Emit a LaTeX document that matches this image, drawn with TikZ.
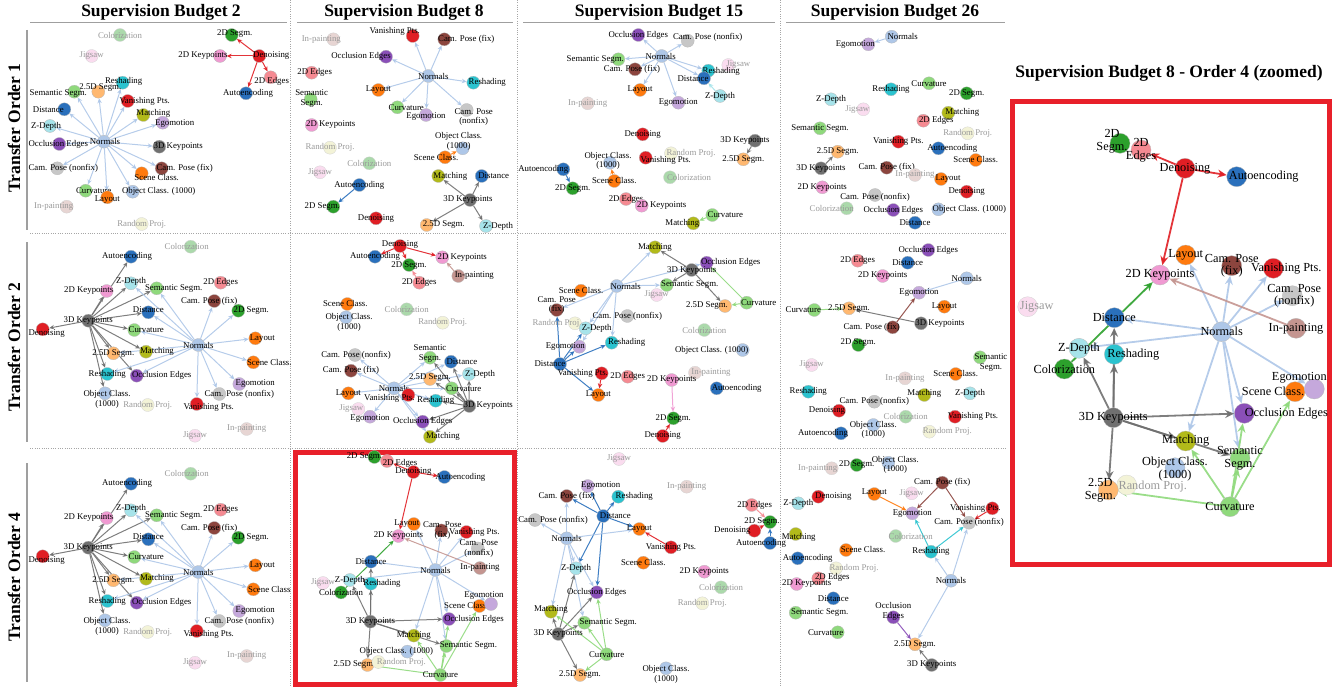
\documentclass[tikz,border=0pt]{standalone}
\usepackage{fontspec}
\setmainfont{Liberation Serif}
\usetikzlibrary{arrows.meta, backgrounds}

\definecolor{nrmC}{HTML}{AEC7E8}
\definecolor{objC}{HTML}{AEC7E8}
\definecolor{aeC}{HTML}{2A70BC}
\definecolor{distC}{HTML}{2A70BC}
\definecolor{layC}{HTML}{FF7A0E}
\definecolor{scnC}{HTML}{FF7A0E}
\definecolor{seg25C}{HTML}{FFB870}
\definecolor{seg2C}{HTML}{2CA02C}
\definecolor{colC}{HTML}{2CA02C}
\definecolor{curvC}{HTML}{8FD97C}
\definecolor{semC}{HTML}{8FD97C}
\definecolor{denC}{HTML}{E01E24}
\definecolor{vanC}{HTML}{E01E24}
\definecolor{edg2C}{HTML}{F58A92}
\definecolor{occC}{HTML}{8A4FB8}
\definecolor{egoC}{HTML}{C5A8DC}
\definecolor{cpfC}{HTML}{8C453E}
\definecolor{inpC}{HTML}{C49590}
\definecolor{kp2C}{HTML}{F09AD2}
\definecolor{jigC}{HTML}{F2A8D6}
\definecolor{kp3C}{HTML}{707070}
\definecolor{cpnC}{HTML}{C7C7C7}
\definecolor{matC}{HTML}{B2BA1A}
\definecolor{rndC}{HTML}{E2E29A}
\definecolor{rshC}{HTML}{2BC3CF}
\definecolor{zdC}{HTML}{A6E3EA}
\definecolor{boxred}{HTML}{E8202A}

\tikzset{
  task/.style={circle, draw=gray!55, line width=0.3pt, minimum size=13pt, inner sep=0pt},
  tlab/.style={font=\fontsize{8.8}{9.6}\selectfont, inner sep=0pt, align=center},
  tedge/.style={-{Stealth[length=5pt, width=4.5pt]}, line width=1pt, opacity=0.9},
  ttl/.style={font=\fontsize{17.5}{20}\selectfont\bfseries, inner sep=0pt},
  sepline/.style={gray!70, dash pattern=on 1pt off 1.3pt, line width=0.6pt},
  rule/.style={gray!75, line width=1.2pt}
}

% task node: name, x, y, colour, label dx, label dy, text
\newcommand{\tsk}[7]{%
  \node[task, fill=#4] (#1) at (#2,#3) {};
  \node[tlab] (#1-t) at ([shift={(#5,#6)}]#1) {#7};}
% unused task, drawn faded
\newcommand{\ftsk}[7]{%
  \node[task, draw=gray!35, fill=#4!40!white] (#1) at (#2,#3) {};
  \node[tlab, text=gray!80] (#1-t) at ([shift={(#5,#6)}]#1) {#7};}
% arrows from one source task
\newcommand{\fanout}[4]{%
  \begin{pgfonlayer}{background}
    \foreach \tg in {#4} {\draw[tedge, draw=#3] (#1-#2) -- (#1-\tg);}
  \end{pgfonlayer}}

% order 2 and order 4 at budget 2
\newcommand{\ordtwo}[3]{%
  \ftsk{#1-col}{190.7}{#2+246.7}{colC}{-4}{0}{Colorization}
  \tsk{#1-ae}{131}{#2+256.7}{aeC}{-4}{0}{Autoencoding}
  \tsk{#1-zd}{131}{#2+283.3}{zdC}{0}{-2}{Z-Depth}
  \tsk{#1-kp2}{106.7}{#2+291}{kp2C}{-18}{0}{2D Keypoints}
  \tsk{#1-sem}{156.7}{#2+288.3}{semC}{17}{0}{Semantic Segm.}
  \tsk{#1-edg2}{220.7}{#2+282.7}{edg2C}{0}{0}{2D Edges}
  \tsk{#1-cpf}{214.3}{#2+301}{cpfC}{-5}{0}{Cam. Pose (fix)}
  \tsk{#1-seg2}{238.3}{#2+310.7}{seg2C}{13}{0}{2D Segm.}
  \tsk{#1-dist}{148.3}{#2+312.3}{distC}{0}{-3}{Distance}
  \tsk{#1-kp3}{88.3}{#2+320.7}{kp3C}{0}{0}{3D Keypoints}
  \tsk{#1-den}{42.7}{#2+329.3}{denC}{4}{4}{Denoising}
  \tsk{#1-curv}{134.3}{#2+330}{curvC}{12}{0}{Curvature}
  \tsk{#1-lay}{255.3}{#2+338.3}{layC}{7}{0}{Layout}
  \tsk{#1-nrm}{198.3}{#2+345}{nrmC}{0}{0}{Normals}
  \tsk{#1-seg25}{113.3}{#2+353.3}{seg25C}{0}{0}{2.5D Segm.}
  \tsk{#1-mat}{146}{#2+351.7}{matC}{11}{0}{Matching}
  \tsk{#1-scn}{253.3}{#2+362.3}{scnC}{16}{0}{#3}
  \tsk{#1-rsh}{107.3}{#2+374}{rshC}{0}{0}{Reshading}
  \tsk{#1-occ}{136.7}{#2+375.7}{occC}{25}{0}{Occlusion Edges}
  \tsk{#1-ego}{239.3}{#2+384}{egoC}{16}{0}{Egomotion}
  \tsk{#1-obj}{105}{#2+393.3}{objC}{2}{6}{Object Class.\\(1000)}
  \tsk{#1-cpn}{219.3}{#2+394}{cpnC}{20}{0}{Cam. Pose (nonfix)}
  \ftsk{#1-rnd}{147.7}{#2+405}{rndC}{0}{0}{Random Proj.}
  \tsk{#1-van}{196.7}{#2+404}{vanC}{12}{3}{Vanishing Pts.}
  \ftsk{#1-inp}{246.7}{#2+429}{inpC}{0}{0}{In-painting}
  \ftsk{#1-jig}{195}{#2+435.7}{jigC}{0}{0}{Jigsaw}
  \fanout{#1}{kp3}{kp3C}{den,kp2,ae,zd,sem,dist,curv,mat,seg25,rsh,occ,obj}
  \fanout{#1}{nrm}{nrmC}{zd,sem,dist,cpf,seg2,lay,curv,seg25,rsh,occ,scn,ego,cpn,van}}

% arrows of budget 8, order 4
\newcommand{\zedges}[1]{%
  \fanout{#1}{den}{denC}{edg2,ae,kp2}
  \fanout{#1}{nrm}{nrmC}{lay,cpf,van,cpn,dist,zd,ego,occ,sem,mat}
  \fanout{#1}{inp}{inpC}{kp2}
  \fanout{#1}{col}{colC}{kp2}
  \fanout{#1}{kp3}{kp3C}{zd,rsh,dist,occ,mat,sem,seg25}
  \fanout{#1}{curv}{curvC}{mat,sem,occ,scn,seg25}}

\begin{document}
\begin{tikzpicture}[x=1pt, y=-1pt]
\useasboundingbox (0,0) rectangle (1332,687);

% frame
\node[ttl] (tb2) at (161,12) {Supervision Budget 2};
\node[ttl] (tb8) at (404,12) {Supervision Budget 8};
\node[ttl] (tb15) at (659,12) {Supervision Budget 15};
\node[ttl] (tb26) at (895,12) {Supervision Budget 26};
\node[ttl] (tbz) at (1169,73) {Supervision Budget 8 - Order 4 (zoomed)};
\node[ttl, rotate=90] (to1) at (14,128) {Transfer Order 1};
\node[ttl, rotate=90] (to2) at (14,347) {Transfer Order 2};
\node[ttl, rotate=90] (to4) at (14,577) {Transfer Order 4};
\draw[rule] (30,22.7) -- (287,22.7);
\draw[rule] (297,22.7) -- (513,22.7);
\draw[rule] (523,22.7) -- (775,22.7);
\draw[rule] (786,22.7) -- (1005,22.7);
\draw[rule] (27,30) -- (27,230);
\draw[rule] (27,242) -- (27,442);
\draw[rule] (27,463) -- (27,682);
\draw[sepline] (290.5,0) -- (290.5,687);
\draw[sepline] (517.5,0) -- (517.5,687);
\draw[sepline] (780,0) -- (780,687);
\draw[sepline] (30,233.5) -- (1006,233.5);
\draw[sepline] (30,448.5) -- (1006,448.5);
\draw[boxred, line width=5pt] (295.5,452.5) rectangle (514.5,684.5);
\draw[boxred, line width=5pt] (1012.5,102) rectangle (1329,564);

% budget 2, order 1
\ftsk{a-col}{120}{35}{colC}{0}{0}{Colorization}
\ftsk{a-jig}{91.7}{56}{jigC}{0}{0}{Jigsaw}
\tsk{a-seg2}{231.7}{35}{seg2C}{3}{-1}{2D Segm.}
\tsk{a-den}{259.3}{56}{denC}{12}{0}{Denoising}
\tsk{a-kp2}{220}{56}{kp2C}{-17}{0}{2D Keypoints}
\tsk{a-edg2}{270.7}{77.3}{edg2C}{1}{4}{2D Edges}
\tsk{a-ae}{246}{93.3}{aeC}{2}{0}{Autoencoding}
\tsk{a-nrm}{104}{141.7}{nrmC}{1}{0}{Normals}
\tsk{a-rsh}{122.7}{82.7}{rshC}{1}{-1}{Reshading}
\tsk{a-seg25}{98.3}{91.7}{seg25C}{2}{-4}{2.5D Segm.}
\tsk{a-sem}{74.3}{91.7}{semC}{-16}{2}{Semantic Segm.}
\tsk{a-van}{127.7}{101}{vanC}{17}{0}{Vanishing Pts.}
\tsk{a-dist}{64.3}{109.3}{distC}{-16}{0}{Distance}
\tsk{a-mat}{143.3}{115}{matC}{10}{-2}{Matching}
\tsk{a-ego}{162.7}{122.7}{egoC}{12}{1}{Egomotion}
\tsk{a-zd}{50}{126}{zdC}{-4}{0}{Z-Depth}
\tsk{a-occ}{59.3}{144}{occC}{-1}{0}{Occlusion Edges}
\tsk{a-kp3}{159.3}{146.7}{kp3C}{19}{0}{3D Keypoints}
\tsk{a-cpn}{57.3}{168.3}{cpnC}{6}{0}{Cam. Pose (nonfix)}
\tsk{a-cpf}{161.7}{168.3}{cpfC}{23}{0}{Cam. Pose (fix)}
\tsk{a-scn}{141.7}{173.3}{scnC}{15}{4}{Scene Class.}
\tsk{a-curv}{85.7}{190.7}{curvC}{8}{0}{Curvature}
\tsk{a-lay}{107.3}{197.3}{layC}{0}{2}{Layout}
\tsk{a-obj}{132.7}{191.7}{objC}{26}{0}{Object Class. (1000)}
\ftsk{a-inp}{66.7}{206.7}{inpC}{-13}{0}{In-painting}
\ftsk{a-rnd}{141.7}{224}{rndC}{0}{0}{Random Proj.}
\fanout{a}{den}{denC}{seg2,kp2,edg2,ae}
\fanout{a}{nrm}{nrmC}{rsh,seg25,sem,van,dist,mat,ego,zd,occ,kp3,cpn,cpf,scn,curv,lay,obj}

% budget 8, order 1
\ftsk{b-inp}{333.3}{39.3}{inpC}{-12}{0}{In-painting}
\tsk{b-van}{412.7}{36}{vanC}{-18}{-5}{Vanishing Pts.}
\tsk{b-cpf}{444.3}{39.3}{cpfC}{22}{0}{Cam. Pose (fix)}
\tsk{b-occ}{386}{56.7}{occC}{-25}{0}{Occlusion Edges}
\tsk{b-edg2}{311.7}{72.7}{edg2C}{3}{0}{2D Edges}
\tsk{b-nrm}{428.3}{76}{nrmC}{5}{0}{Normals}
\tsk{b-rsh}{473.3}{82.7}{rshC}{14}{0}{Reshading}
\tsk{b-lay}{378.3}{90}{layC}{0}{0}{Layout}
\tsk{b-sem}{310.7}{99.3}{semC}{1}{-1}{Semantic\\Segm.}
\tsk{b-curv}{397.3}{107.3}{curvC}{9}{0}{Curvature}
\tsk{b-ego}{426}{115}{egoC}{0}{2}{Egomotion}
\tsk{b-cpn}{466.7}{110}{cpnC}{7}{7}{Cam. Pose\\(nonfix)}
\tsk{b-kp2}{311.7}{125}{kp2C}{19}{0}{2D Keypoints}
\tsk{b-obj}{462.7}{148.3}{objC}{-4}{-7}{Object Class.\\(1000)}
\ftsk{b-rnd}{330}{147.7}{rndC}{0}{0}{Random Proj.}
\tsk{b-scn}{445}{157.3}{scnC}{-9}{0}{Scene Class.}
\ftsk{b-col}{369.3}{163.3}{colC}{0}{0}{Colorization}
\ftsk{b-jig}{320}{172.3}{jigC}{0}{0}{Jigsaw}
\tsk{b-mat}{438.3}{176}{matC}{12}{0}{Matching}
\tsk{b-dist}{481.7}{176}{distC}{12}{0}{Distance}
\tsk{b-ae}{359.3}{185}{aeC}{0}{0}{Autoencoding}
\tsk{b-seg2}{333.3}{206.7}{seg2C}{-11}{0}{2D Segm.}
\tsk{b-kp3}{470}{200}{kp3C}{-2}{0}{3D Keypoints}
\tsk{b-den}{376}{218.3}{denC}{0}{0}{Denoising}
\tsk{b-seg25}{426.7}{225}{seg25C}{17}{0}{2.5D Segm.}
\tsk{b-zd}{486}{226}{zdC}{12}{0}{Z-Depth}
\fanout{b}{nrm}{nrmC}{van,cpf,occ,rsh,lay,curv,ego,cpn}
\fanout{b}{scn}{scnC}{obj}
\fanout{b}{ae}{aeC}{seg2}
\fanout{b}{kp3}{kp3C}{mat,dist,seg25,zd}

% budget 15, order 1
\tsk{c-occ}{638.3}{35}{occC}{0}{0}{Occlusion Edges}
\tsk{c-cpn}{687.7}{40.7}{cpnC}{20}{-3}{Cam. Pose (nonfix)}
\tsk{c-nrm}{661.7}{56}{nrmC}{-1}{0}{Normals}
\tsk{c-sem}{618.3}{59.3}{semC}{-23}{0}{Semantic Segm.}
\tsk{c-cpf}{635}{69.3}{cpfC}{-3}{0}{Cam. Pose (fix)}
\ftsk{c-jig}{728.3}{65}{jigC}{10}{0}{Jigsaw}
\tsk{c-rsh}{708.3}{70.7}{rshC}{13}{1}{Reshading}
\tsk{c-dist}{704}{78.3}{distC}{-11}{0}{Distance}
\tsk{c-lay}{640}{90}{layC}{0}{0}{Layout}
\tsk{c-zd}{720}{96}{zdC}{0}{0}{Z-Depth}
\ftsk{c-inp}{587.7}{103.3}{inpC}{0}{0}{In-painting}
\tsk{c-ego}{678.3}{102.7}{egoC}{0}{0}{Egomotion}
\tsk{c-den}{642.7}{134.3}{denC}{0}{0}{Denoising}
\tsk{c-kp3}{755}{140.7}{kp3C}{-10}{0}{3D Keypoints}
\tsk{c-seg25}{743.3}{159.3}{seg25C}{0}{0}{2.5D Segm.}
\ftsk{c-rnd}{671}{153.3}{rndC}{20}{0}{Random Proj.}
\tsk{c-obj}{610}{162.7}{objC}{-2}{-2}{Object Class.\\(1000)}
\tsk{c-van}{645.7}{157.7}{vanC}{20}{3}{Vanishing Pts.}
\tsk{c-ae}{563.3}{169.3}{aeC}{-20}{0}{Autoencoding}
\tsk{c-seg2}{572.7}{188.3}{seg2C}{0}{0}{2D Segm.}
\tsk{c-scn}{614.3}{181}{scnC}{0}{0}{Scene Class.}
\ftsk{c-col}{670}{177.3}{colC}{19}{0}{Colorization}
\tsk{c-edg2}{626}{199}{edg2C}{0}{0}{2D Edges}
\tsk{c-kp2}{641.7}{205.7}{kp2C}{20}{0}{2D Keypoints}
\tsk{c-curv}{712.3}{215}{curvC}{13}{0}{Curvature}
\tsk{c-mat}{693.3}{223.3}{matC}{-11}{0}{Matching}
\fanout{c}{nrm}{nrmC}{occ,cpn,sem,cpf,rsh,dist,lay,ego}
\fanout{c}{zd}{zdC}{dist}
\fanout{c}{kp3}{kp3C}{seg25}
\fanout{c}{ae}{aeC}{seg2}
\fanout{c}{scn}{scnC}{obj}
\fanout{c}{curv}{curvC}{mat}

% budget 26, order 1
\tsk{d-nrm}{891.7}{36.7}{nrmC}{11}{0}{Normals}
\tsk{d-ego}{868.3}{44.3}{egoC}{-13}{0}{Egomotion}
\tsk{d-rsh}{891}{89.3}{rshC}{0}{0}{Reshading}
\tsk{d-curv}{929}{83.3}{curvC}{0}{0}{Curvature}
\tsk{d-seg2}{966.7}{93.3}{seg2C}{0}{0}{2D Segm.}
\tsk{d-zd}{831}{99.3}{zdC}{0}{0}{Z-Depth}
\ftsk{d-jig}{863.3}{109.3}{jigC}{-6}{0}{Jigsaw}
\tsk{d-mat}{948.3}{112.7}{matC}{14}{0}{Matching}
\tsk{d-edg2}{923.3}{120.7}{edg2C}{13}{0}{2D Edges}
\tsk{d-sem}{820}{128.3}{semC}{0}{0}{Semantic Segm.}
\ftsk{d-rnd}{967.7}{133.3}{rndC}{0}{0}{Random Proj.}
\tsk{d-van}{898.3}{141.7}{vanC}{0}{0}{Vanishing Pts.}
\tsk{d-ae}{938.3}{148.3}{aeC}{14}{0}{Autoencoding}
\tsk{d-seg25}{837.7}{151.7}{seg25C}{0}{0}{2.5D Segm.}
\tsk{d-scn}{975.7}{160}{scnC}{0}{0}{Scene Class.}
\tsk{d-kp3}{821}{168.3}{kp3C}{0}{0}{3D Keypoints}
\tsk{d-cpf}{886.7}{167.7}{cpfC}{0}{0}{Cam. Pose (fix)}
\ftsk{d-inp}{915}{175}{inpC}{0}{0}{In-painting}
\tsk{d-lay}{941}{179}{layC}{7}{0}{Layout}
\tsk{d-kp2}{822.3}{187.3}{kp2C}{0}{0}{2D Keypoints}
\tsk{d-den}{966.7}{191.7}{denC}{0}{0}{Denoising}
\tsk{d-cpn}{875}{195}{cpnC}{0}{2}{Cam. Pose (nonfix)}
\ftsk{d-col}{846.7}{208.3}{colC}{-15}{0}{Colorization}
\tsk{d-occ}{893.3}{210}{occC}{0}{0}{Occlusion Edges}
\tsk{d-obj}{938.3}{209.3}{objC}{31}{0}{Object Class. (1000)}
\tsk{d-dist}{915}{222.7}{distC}{0}{0}{Distance}
\fanout{d}{nrm}{nrmC}{ego}
\fanout{d}{kp3}{kp3C}{seg25}

% budget 2, orders 2 and 4
\ordtwo{e}{0}{Scene Class.}
\ordtwo{i}{227}{Scene Class}

% budget 8, order 2
\tsk{f-den}{400}{246}{denC}{0}{-1}{Denoising}
\tsk{f-ae}{375}{256.7}{aeC}{0}{0}{Autoencoding}
\tsk{f-kp2}{442.3}{257.3}{kp2C}{20}{0}{2D Keypoints}
\tsk{f-seg2}{409}{265}{seg2C}{0}{1}{2D Segm.}
\tsk{f-inp}{458.3}{276}{inpC}{16}{0}{In-painting}
\tsk{f-edg2}{419.3}{282.7}{edg2C}{0}{0}{2D Edges}
\tsk{f-scn}{347.3}{304}{scnC}{-2}{0}{Scene Class.}
\tsk{f-obj}{346}{317.3}{objC}{3}{5}{Object Class.\\(1000)}
\ftsk{f-col}{406.7}{309.3}{colC}{0}{0}{Colorization}
\ftsk{f-rnd}{442.7}{322.7}{rndC}{0}{0}{Random Proj.}
\tsk{f-cpn}{355}{355}{cpnC}{1}{0}{Cam. Pose (nonfix)}
\tsk{f-sem}{430}{357.7}{semC}{0}{-4}{Semantic\\Segm.}
\tsk{f-dist}{451}{361.7}{distC}{11}{0}{Distance}
\tsk{f-cpf}{351}{370.7}{cpfC}{0}{0}{Cam. Pose (fix)}
\tsk{f-zd}{469}{374}{zdC}{11}{0}{Z-Depth}
\tsk{f-seg25}{430}{379}{seg25C}{0}{-1}{2.5D Segm.}
\tsk{f-curv}{451.7}{388.3}{curvC}{12}{0}{Curvature}
\tsk{f-nrm}{394}{388.3}{nrmC}{0}{0}{Normals}
\tsk{f-lay}{348.3}{393.3}{layC}{0}{0}{Layout}
\tsk{f-van}{408.3}{395}{vanC}{-19}{3}{Vanishing Pts.}
\tsk{f-rsh}{435.7}{400.7}{rshC}{0}{0}{Reshading}
\tsk{f-kp3}{469.3}{406}{kp3C}{19}{0}{3D Keypoints}
\ftsk{f-jig}{358.3}{409}{jigC}{-7}{0}{Jigsaw}
\tsk{f-ego}{370}{416.7}{egoC}{0}{2}{Egomotion}
\tsk{f-occ}{422.7}{421.7}{occC}{0}{0}{Occlusion Edges}
\tsk{f-mat}{430}{436.7}{matC}{13}{0}{Matching}
\fanout{f}{den}{denC}{ae,seg2,kp2}
\fanout{f}{edg2}{edg2C}{seg2}
\fanout{f}{inp}{inpC}{kp2}
\fanout{f}{nrm}{nrmC}{cpn,cpf,lay,sem,dist,zd,curv,rsh,ego,occ,mat}
\fanout{f}{kp3}{kp3C}{sem,dist,zd,seg25,curv,rsh,occ,mat}

% budget 15, order 2
\tsk{g-mat}{655}{247.3}{matC}{0}{0}{Matching}
\tsk{g-occ}{706.7}{262.7}{occC}{24}{0}{Occlusion Edges}
\tsk{g-kp3}{691.7}{270}{kp3C}{0}{1}{3D Keypoints}
\tsk{g-nrm}{616.7}{286}{nrmC}{9}{0}{Normals}
\tsk{g-scn}{581}{290.7}{scnC}{0}{0}{Scene Class.}
\tsk{g-sem}{666.7}{285}{semC}{23}{0}{Semantic Segm.}
\ftsk{g-jig}{656.7}{295}{jigC}{0}{0}{Jigsaw}
\tsk{g-cpf}{556.7}{310}{cpfC}{0}{-5}{Cam. Pose\\(fix)}
\tsk{g-seg25}{725}{306}{seg25C}{-18}{0}{2.5D Segm.}
\tsk{g-curv}{746.7}{302.7}{curvC}{12}{0}{Curvature}
\tsk{g-cpn}{627.3}{316}{cpnC}{0}{0}{Cam. Pose (nonfix)}
\ftsk{g-rnd}{575}{323.3}{rndC}{-18}{0}{Random Proj.}
\tsk{g-zd}{585.7}{328.3}{zdC}{11}{0}{Z-Depth}
\ftsk{g-col}{704.3}{330}{colC}{0}{0}{Colorization}
\tsk{g-rsh}{611.7}{342.7}{rshC}{15}{0}{Reshading}
\tsk{g-ego}{579.3}{346.7}{egoC}{-14}{0}{Egomotion}
\tsk{g-obj}{742.7}{350}{objC}{-31}{0}{Object Class. (1000)}
\tsk{g-dist}{560}{364}{distC}{-10}{0}{Distance}
\tsk{g-van}{601.7}{373.3}{vanC}{-19}{0}{Vanishing Pts.}
\tsk{g-edg2}{627.7}{376.7}{edg2C}{0}{0}{2D Edges}
\ftsk{g-inp}{695}{372.7}{inpC}{16}{0}{In-painting}
\tsk{g-kp2}{671.7}{380}{kp2C}{0}{0}{2D Keypoints}
\tsk{g-ae}{716.7}{388.3}{aeC}{20}{0}{Autoencoding}
\tsk{g-lay}{598.3}{395}{layC}{0}{0}{Layout}
\tsk{g-seg2}{673.3}{418.3}{seg2C}{0}{0}{2D Segm.}
\tsk{g-den}{662.7}{436}{denC}{0}{0}{Denoising}
\fanout{g}{nrm}{nrmC}{mat,cpf,sem,zd,rsh,ego,occ}
\fanout{g}{kp3}{kp3C}{mat,sem,seg25}
\fanout{g}{curv}{curvC}{occ,seg25}
\fanout{g}{dist}{distC}{cpf,zd,ego,rsh,lay}
\fanout{g}{van}{vanC}{lay}
\fanout{g}{kp2}{kp2C}{seg2}
\fanout{g}{den}{denC}{seg2}

% budget 26, order 2
\tsk{h-occ}{928.3}{250}{occC}{0}{0}{Occlusion Edges}
\tsk{h-edg2}{857.7}{260.7}{edg2C}{0}{0}{2D Edges}
\tsk{h-dist}{907.7}{262.7}{distC}{0}{0}{Distance}
\tsk{h-kp2}{882.7}{276}{kp2C}{0}{0}{2D Keypoints}
\tsk{h-nrm}{966.7}{278.3}{nrmC}{0}{0}{Normals}
\tsk{h-ego}{919}{292.7}{egoC}{0}{0}{Egomotion}
\tsk{h-lay}{944.3}{306.7}{layC}{0}{0}{Layout}
\tsk{h-curv}{814.3}{310}{curvC}{-11}{0}{Curvature}
\tsk{h-seg25}{849}{308.3}{seg25C}{0}{0}{2.5D Segm.}
\tsk{h-cpf}{892.7}{327.3}{cpfC}{-21}{0}{Cam. Pose (fix)}
\tsk{h-kp3}{921}{323.3}{kp3C}{19}{0}{3D Keypoints}
\tsk{h-seg2}{858.3}{345}{seg2C}{0}{-2}{2D Segm.}
\ftsk{h-jig}{811.7}{365}{jigC}{0}{0}{Jigsaw}
\tsk{h-sem}{980}{357.3}{semC}{11}{5}{Semantic\\Segm.}
\ftsk{h-inp}{905}{378.3}{inpC}{0}{0}{In-painting}
\tsk{h-scn}{955.7}{374}{scnC}{0}{0}{Scene Class.}
\tsk{h-rsh}{808.3}{391.7}{rshC}{0}{0}{Reshading}
\tsk{h-mat}{924.3}{395}{matC}{0}{-2}{Matching}
\tsk{h-zd}{970}{393.3}{zdC}{0}{0}{Z-Depth}
\tsk{h-cpn}{874.3}{401.7}{cpnC}{0}{0}{Cam. Pose (nonfix)}
\tsk{h-den}{839}{410.7}{denC}{-12}{0}{Denoising}
\ftsk{h-col}{905.7}{416.7}{colC}{0}{0}{Colorization}
\tsk{h-van}{955}{416.7}{vanC}{18}{0}{Vanishing Pts.}
\tsk{h-obj}{873.3}{425}{objC}{0}{5}{Object Class.\\(1000)}
\ftsk{h-rnd}{929.3}{431.7}{rndC}{18}{0}{Random Proj.}
\tsk{h-ae}{841}{433.3}{aeC}{-18}{0}{Autoencoding}
\fanout{h}{nrm}{nrmC}{ego}
\fanout{h}{curv}{curvC}{seg25}
\fanout{h}{kp3}{kp3C}{seg25}
\fanout{h}{cpf}{cpfC}{ego}

% budget 8, order 4
\tsk{j-seg2}{374.4}{457}{seg2C}{-10}{0}{2D Segm.}
\tsk{j-edg2}{387}{461}{edg2C}{13}{2}{2D Edges}
\tsk{j-den}{413.4}{472}{denC}{0}{0}{Denoising}
\tsk{j-ae}{444.4}{477}{aeC}{16}{0}{Autoencoding}
\tsk{j-lay}{413.8}{524}{layC}{-7}{0}{Layout}
\tsk{j-cpf}{441.4}{530.4}{cpfC}{1}{0}{Cam. Pose\\(fix)}
\tsk{j-van}{466.4}{532}{vanC}{8}{0}{Vanishing Pts.}
\tsk{j-kp2}{398.4}{536}{kp2C}{0}{0}{2D Keypoints}
\tsk{j-cpn}{477.8}{548.4}{cpnC}{1}{0}{Cam. Pose\\(nonfix)}
\ftsk{j-jig}{323}{583}{jigC}{0}{0}{Jigsaw}
\tsk{j-dist}{371}{561.6}{distC}{0}{0}{Distance}
\tsk{j-nrm}{435.4}{570}{nrmC}{0}{0}{Normals}
\tsk{j-inp}{480}{568}{inpC}{0}{0}{In-painting}
\tsk{j-zd}{349.8}{580}{zdC}{0}{0}{Z-Depth}
\tsk{j-rsh}{371}{583.6}{rshC}{11}{0}{Reshading}
\tsk{j-col}{341}{592.4}{colC}{0}{0}{Colorization}
\tsk{j-scn}{479.4}{606}{scnC}{-13}{0}{Scene Class.}
\tsk{j-ego}{491}{604}{egoC}{-7}{-8}{Egomotion}
\tsk{j-kp3}{370.4}{621.6}{kp3C}{0}{0}{3D Keypoints}
\tsk{j-occ}{449}{619}{occC}{25}{0}{Occlusion Edges}
\tsk{j-mat}{413.8}{635.6}{matC}{0}{0}{Matching}
\tsk{j-sem}{446.4}{646}{semC}{22}{0}{Semantic Segm.}
\tsk{j-obj}{407.4}{651.6}{objC}{-11}{0}{Object Class. (1000)}
\tsk{j-seg25}{367.4}{665}{seg25C}{-13}{0}{2.5D Segm.}
\ftsk{j-rnd}{378.4}{662}{rndC}{23}{0}{Random Proj.}
\tsk{j-curv}{440.4}{675}{curvC}{0}{0}{Curvature}
\zedges{j}

% budget 15, order 4
\ftsk{k-jig}{619}{459}{jigC}{0}{0}{Jigsaw}
\tsk{k-ego}{587.7}{486}{egoC}{13}{0}{Egomotion}
\ftsk{k-inp}{686.7}{486.7}{inpC}{0}{0}{In-painting}
\tsk{k-cpf}{566.7}{496}{cpfC}{0}{0}{Cam. Pose (fix)}
\tsk{k-rsh}{618.3}{496.7}{rshC}{16}{0}{Reshading}
\tsk{k-edg2}{751.7}{505}{edg2C}{3}{0}{2D Edges}
\tsk{k-dist}{603.3}{516}{distC}{12}{0}{Distance}
\tsk{k-cpn}{535}{520}{cpnC}{18}{0}{Cam. Pose (nonfix)}
\tsk{k-lay}{639.3}{529}{layC}{0}{0}{Layout}
\tsk{k-seg2}{770}{522}{seg2C}{-8}{0}{2D Segm.}
\tsk{k-den}{754.3}{530.7}{denC}{-22}{0}{Denoising}
\tsk{k-ae}{770}{543}{aeC}{-9}{0}{Autoencoding}
\tsk{k-nrm}{566.7}{538.3}{nrmC}{0}{0}{Normals}
\tsk{k-van}{671}{547.3}{vanC}{0}{0}{Vanishing Pts.}
\tsk{k-scn}{643.3}{562.7}{scnC}{0}{0}{Scene Class.}
\tsk{k-kp2}{704.3}{571.7}{kp2C}{0}{0}{2D Keypoints}
\tsk{k-zd}{576}{568.3}{zdC}{0}{0}{Z-Depth}
\ftsk{k-col}{721}{587.3}{colC}{0}{0}{Colorization}
\tsk{k-occ}{596.7}{592.3}{occC}{0}{0}{Occlusion Edges}
\ftsk{k-rnd}{702.3}{603.3}{rndC}{0}{0}{Random Proj.}
\tsk{k-mat}{551}{611.7}{matC}{0}{-2}{Matching}
\tsk{k-sem}{584.3}{622.7}{semC}{24}{0}{Semantic Segm.}
\tsk{k-kp3}{558.3}{634}{kp3C}{0}{0}{3D Keypoints}
\tsk{k-curv}{606.7}{654.3}{curvC}{0}{0}{Curvature}
\tsk{k-seg25}{580}{675}{seg25C}{0}{0}{2.5D Segm.}
\tsk{k-obj}{666}{668.3}{objC}{0}{6}{Object Class.\\(1000)}
\fanout{k}{dist}{distC}{ego,cpf,rsh,lay,zd,occ}
\fanout{k}{van}{vanC}{lay}
\fanout{k}{nrm}{nrmC}{cpn,cpf,mat,sem,occ,lay,zd}
\fanout{k}{kp3}{kp3C}{mat,zd,occ,sem,seg25}
\fanout{k}{curv}{curvC}{mat,sem,occ,seg25}
\fanout{k}{edg2}{edg2C}{seg2}
\fanout{k}{den}{denC}{seg2}
\fanout{k}{ae}{aeC}{seg2}

% budget 26, order 4
\ftsk{l-inp}{831.7}{468.3}{inpC}{-14}{0}{In-painting}
\tsk{l-seg2}{856.7}{465}{seg2C}{0}{0}{2D Segm.}
\tsk{l-obj}{888.3}{462.7}{objC}{7}{2}{Object Class.\\(1000)}
\tsk{l-zd}{798.3}{503.3}{zdC}{0}{0}{Z-Depth}
\tsk{l-den}{818.3}{496.7}{denC}{15}{0}{Denoising}
\tsk{l-lay}{874.3}{494}{layC}{0}{-1}{Layout}
\ftsk{l-jig}{911.7}{493.3}{jigC}{0}{0}{Jigsaw}
\tsk{l-cpf}{942.3}{482.7}{cpfC}{0}{0}{Cam. Pose (fix)}
\tsk{l-ego}{912.3}{513.3}{egoC}{0}{0}{Egomotion}
\tsk{l-van}{992.3}{508.3}{vanC}{-17}{0}{Vanishing Pts.}
\tsk{l-cpn}{969}{522.7}{cpnC}{0}{0}{Cam. Pose (nonfix)}
\ftsk{l-col}{895.7}{536}{colC}{15}{0}{Colorization}
\tsk{l-mat}{795.7}{534}{matC}{3}{3}{Matching}
\tsk{l-rsh}{931}{551.7}{rshC}{0}{0}{Reshading}
\tsk{l-scn}{846}{550}{scnC}{17}{0}{Scene Class.}
\tsk{l-ae}{797.7}{558.3}{aeC}{10}{0}{Autoencoding}
\ftsk{l-rnd}{836}{568.3}{rndC}{18}{0}{Random Proj.}
\tsk{l-nrm}{951}{580.7}{nrmC}{0}{0}{Normals}
\tsk{l-edg2}{818.3}{578.3}{edg2C}{14}{-1}{2D Edges}
\tsk{l-kp2}{796.7}{584}{kp2C}{10}{0}{2D Keypoints}
\tsk{l-dist}{833.3}{598.3}{distC}{0}{0}{Distance}
\tsk{l-occ}{893.3}{617.3}{occC}{0}{-6}{Occlusion\\Edges}
\tsk{l-sem}{795.7}{612.7}{semC}{24}{0}{Semantic Segm.}
\tsk{l-curv}{837.7}{632.3}{curvC}{-12}{0}{Curvature}
\tsk{l-seg25}{915}{644.3}{seg25C}{0}{0}{2.5D Segm.}
\tsk{l-kp3}{931.7}{665}{kp3C}{0}{0}{3D Keypoints}
\fanout{l}{lay}{layC}{ego}
\fanout{l}{cpf}{cpfC}{ego,cpn}
\fanout{l}{van}{vanC}{cpn}
\fanout{l}{rsh}{rshC}{ego,cpn}
\fanout{l}{nrm}{nrmC}{rsh,cpn,seg25}
\fanout{l}{occ}{occC}{seg25}
\fanout{l}{kp3}{kp3C}{seg25}

% zoomed copy of budget 8, order 4
\begin{scope}[task/.append style={minimum size=20pt},
  tlab/.append style={font=\fontsize{12.3}{12.8}\selectfont},
  tedge/.append style={line width=1.8pt, -{Stealth[length=9pt, width=8pt]}}]
\tsk{z-seg2}{1120}{143.3}{seg2C}{-8}{-2}{2D\\Segm.}
\tsk{z-edg2}{1141}{150}{edg2C}{0}{0}{2D\\Edges}
\tsk{z-den}{1185}{168.3}{denC}{0}{0}{Denoising}
\tsk{z-ae}{1236.7}{176.7}{aeC}{27}{0}{Autoencoding}
\tsk{z-lay}{1185.7}{255}{layC}{0}{0}{Layout}
\tsk{z-cpf}{1231.7}{265.7}{cpfC}{0}{0}{Cam. Pose\\(fix)}
\tsk{z-van}{1273.3}{268.3}{vanC}{13}{0}{Vanishing Pts.}
\tsk{z-kp2}{1160}{275}{kp2C}{0}{0}{2D Keypoints}
\tsk{z-cpn}{1292.3}{295.7}{cpnC}{2}{0}{Cam. Pose\\(nonfix)}
\ftsk{z-jig}{1027.7}{306.7}{jigC}{9}{0}{Jigsaw}
\tsk{z-dist}{1114.3}{317.7}{distC}{0}{0}{Distance}
\tsk{z-nrm}{1221.7}{331.7}{nrmC}{0}{0}{Normals}
\tsk{z-inp}{1296}{328.3}{inpC}{0}{0}{In-painting}
\tsk{z-zd}{1079}{348.3}{zdC}{0}{0}{Z-Depth}
\tsk{z-rsh}{1114.3}{354.3}{rshC}{19}{0}{Reshading}
\tsk{z-col}{1064.3}{369}{colC}{0}{0}{Colorization}
\tsk{z-scn}{1295}{391.7}{scnC}{-22}{0}{Scene Class.}
\tsk{z-ego}{1314.3}{389}{egoC}{-15}{-11}{Egomotion}
\tsk{z-kp3}{1113.3}{417.7}{kp3C}{0}{0}{3D Keypoints}
\tsk{z-occ}{1244.3}{413.3}{occC}{42}{0}{Occlusion Edges}
\tsk{z-mat}{1185.7}{441}{matC}{0}{0}{Matching}
\tsk{z-sem}{1240}{458.3}{semC}{0}{0}{Semantic\\Segm.}
\tsk{z-obj}{1175}{467.7}{objC}{0}{1}{Object Class.\\(1000)}
\ftsk{z-rnd}{1126.7}{485}{rndC}{26}{2}{Random Proj.}
\tsk{z-seg25}{1108.3}{490}{seg25C}{-8}{0}{2.5D\\Segm.}
\tsk{z-curv}{1230}{506.7}{curvC}{0}{0}{Curvature}
\zedges{z}
\end{scope}
\end{tikzpicture}
\end{document}
